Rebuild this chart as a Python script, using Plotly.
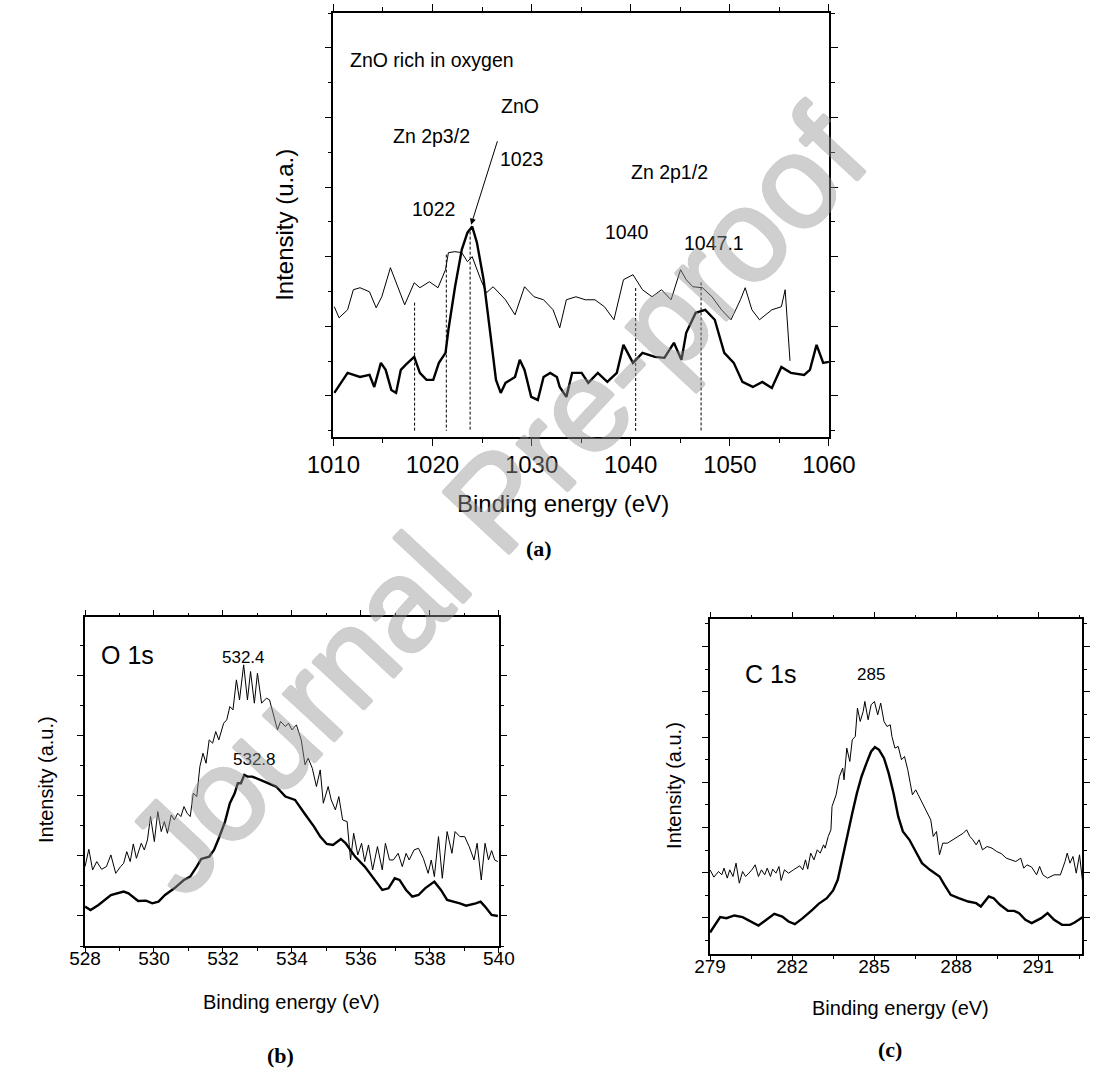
import plotly.graph_objects as go

W, H = 1109, 1068

# ---------------- (a) Zn 2p region ----------------
zn_thick_x = [1010.10, 1011.44, 1012.69, 1013.65, 1014.13, 1014.80, 1015.28, 1015.85, 1016.33, 1016.81,
              1017.29, 1018.16, 1018.73, 1019.40, 1020.08, 1020.65, 1021.32, 1021.61, 1022.28, 1022.96,
              1023.53, 1024.01, 1024.49, 1025.16, 1025.83, 1026.41, 1026.89, 1027.37, 1028.33, 1028.81,
              1029.29, 1029.96, 1030.63, 1031.21, 1031.88, 1032.55, 1032.84, 1033.51, 1034.09, 1035.05,
              1035.72, 1036.68, 1037.64, 1038.60, 1039.27, 1040.23, 1041.19, 1042.44, 1043.40, 1044.36,
              1045.12, 1045.60, 1046.56, 1047.52, 1048.48, 1049.44, 1050.40, 1051.27, 1052.32, 1053.28,
              1054.24, 1055.20, 1056.16, 1057.50, 1058.08, 1058.75, 1059.42, 1060.00]
zn_thick_y = [0.043, 0.331, 0.273, 0.302, 0.129, 0.475, 0.374, 0.086, 0.043, 0.374,
              0.446, 0.561, 0.331, 0.230, 0.230, 0.475, 0.619, 0.950, 1.568, 2.101,
              2.345, 2.432, 2.201, 1.669, 0.906, 0.230, 0.043, 0.187, 0.273, 0.518,
              0.374, -0.014, -0.058, 0.273, 0.331, 0.273, 0.129, -0.014, 0.331, 0.331,
              0.187, 0.331, 0.201, 0.331, 0.734, 0.475, 0.619, 0.561, 0.547, 0.763,
              0.518, 0.906, 1.194, 1.237, 1.094, 0.619, 0.475, 0.201, 0.129, 0.201,
              0.115, 0.417, 0.331, 0.302, 0.374, 0.734, 0.475, 0.489]

zn_thin_x = [1010.10, 1010.58, 1011.44, 1012.02, 1012.69, 1013.65, 1014.32, 1014.89, 1015.76, 1016.53,
             1017.20, 1018.16, 1018.73, 1019.69, 1020.56, 1021.32, 1021.61, 1022.28, 1022.96, 1023.53,
             1024.01, 1024.88, 1025.45, 1026.12, 1027.37, 1028.33, 1029.29, 1030.25, 1031.21, 1032.17,
             1032.84, 1033.51, 1034.47, 1035.43, 1036.39, 1037.35, 1038.31, 1039.27, 1040.23, 1041.19,
             1042.15, 1043.11, 1044.07, 1045.03, 1045.60, 1046.28, 1047.24, 1048.20, 1049.16, 1050.12,
             1051.07, 1051.55, 1052.23, 1052.99, 1054.24, 1055.20, 1055.58, 1056.07]
zn_thin_y = [1.281, 1.122, 1.237, 1.525, 1.554, 1.496, 1.266, 1.424, 1.842, 1.568,
             1.309, 1.626, 1.554, 1.640, 1.554, 1.813, 2.058, 2.072, 2.058, 1.928,
             2.000, 1.669, 1.482, 1.568, 1.381, 1.165, 1.568, 1.424, 1.381, 1.237,
             0.978, 1.381, 1.424, 1.381, 1.381, 1.281, 1.094, 1.669, 1.741, 1.525,
             1.424, 1.525, 1.381, 1.813, 1.669, 1.568, 1.554, 1.424, 1.237, 1.094,
             1.381, 1.554, 1.237, 1.094, 1.237, 1.281, 1.525, 0.504]

# reference energies marked with dashed drop lines
zn_marks_x = [1018.2, 1021.4, 1023.8, 1040.5, 1047.1]
zn_marks_top = [1.34, 2.03, 2.36, 1.55, 1.63]
zn_marks_bottom = -0.5

# ---------------- (b) O 1s region ----------------
o_thick_x = [528.00, 528.16, 528.39, 528.75, 529.12, 529.26, 529.54, 529.77, 529.95, 530.13,
             530.32, 530.59, 530.87, 531.05, 531.24, 531.37, 531.60, 531.74, 531.88, 532.06,
             532.20, 532.34, 532.43, 532.52, 532.62, 532.71, 532.85, 533.08, 533.35, 533.54,
             533.81, 534.09, 534.36, 534.64, 534.82, 535.01, 535.19, 535.42, 535.56, 535.83,
             536.11, 536.39, 536.62, 536.80, 536.98, 537.12, 537.31, 537.49, 537.67, 537.86,
             538.13, 538.32, 538.50, 538.87, 539.05, 539.33, 539.47, 539.60, 539.79, 539.97]
o_thick_y = [0.156, 0.100, 0.183, 0.350, 0.406, 0.378, 0.250, 0.256, 0.211, 0.239,
             0.350, 0.461, 0.600, 0.656, 0.822, 0.950, 0.989, 1.100, 1.294, 1.572,
             1.878, 2.044, 2.211, 2.211, 2.350, 2.322, 2.322, 2.267, 2.211, 2.156,
             1.989, 1.933, 1.711, 1.489, 1.322, 1.200, 1.183, 1.283, 1.211, 0.989,
             0.822, 0.600, 0.433, 0.461, 0.628, 0.600, 0.433, 0.322, 0.350, 0.461,
             0.572, 0.433, 0.267, 0.211, 0.172, 0.211, 0.239, 0.156, 0.017, 0.000]

o_thin_x = [528.00, 528.11, 528.22, 528.34, 528.48, 528.62, 528.75, 528.89, 529.03, 529.12,
            529.21, 529.31, 529.40, 529.49, 529.63, 529.72, 529.81, 529.90, 530.01, 530.11,
            530.21, 530.30, 530.39, 530.50, 530.59, 530.69, 530.78, 530.87, 530.96, 531.05,
            531.14, 531.24, 531.33, 531.42, 531.51, 531.60, 531.70, 531.79, 531.88, 532.02,
            532.11, 532.20, 532.29, 532.39, 532.48, 532.60, 532.71, 532.80, 532.91, 533.00,
            533.12, 533.26, 533.35, 533.46, 533.58, 533.67, 533.81, 533.90, 534.00, 534.13,
            534.27, 534.38, 534.47, 534.59, 534.71, 534.82, 534.91, 535.05, 535.14, 535.26,
            535.36, 535.47, 535.60, 535.70, 535.79, 535.91, 536.02, 536.11, 536.22, 536.34,
            536.48, 536.62, 536.71, 536.83, 536.94, 537.08, 537.20, 537.31, 537.40, 537.54,
            537.67, 537.81, 537.95, 538.04, 538.13, 538.25, 538.36, 538.50, 538.64, 538.73,
            538.87, 539.01, 539.14, 539.28, 539.37, 539.49, 539.60, 539.70, 539.79, 539.88,
            539.97]
o_thin_y = [0.822, 1.111, 0.767, 0.906, 0.778, 0.822, 1.017, 0.711, 0.822, 0.878,
            1.072, 0.906, 1.200, 0.961, 1.211, 1.100, 1.267, 1.656, 1.239, 1.739,
            1.406, 1.572, 1.378, 1.683, 1.600, 1.711, 1.656, 1.822, 1.711, 1.656,
            2.044, 1.989, 2.489, 2.711, 2.544, 2.933, 2.878, 3.072, 2.933, 3.211,
            3.267, 3.489, 3.433, 3.933, 3.600, 4.183, 3.600, 4.072, 3.544, 4.044,
            3.544, 3.628, 3.600, 3.378, 3.100, 3.239, 3.156, 3.211, 3.100, 3.183,
            2.933, 2.517, 2.628, 2.461, 2.156, 2.433, 1.878, 2.156, 1.933, 1.767,
            1.989, 1.600, 1.572, 0.933, 1.378, 1.017, 1.211, 0.906, 1.183, 0.767,
            1.156, 0.767, 1.211, 0.933, 0.933, 1.044, 0.822, 1.044, 0.933, 1.100,
            1.128, 0.961, 0.711, 0.933, 0.656, 1.322, 0.628, 1.406, 1.044, 1.406,
            1.322, 1.322, 1.156, 0.933, 1.211, 0.600, 1.211, 0.933, 1.089, 0.933,
            0.906]

# ---------------- (c) C 1s region ----------------
c_thick_x = [279.00, 279.14, 279.37, 279.60, 279.89, 280.19, 280.48, 280.77, 281.06, 281.35,
             281.64, 281.87, 282.10, 282.39, 282.74, 282.97, 283.27, 283.50, 283.67, 283.85,
             284.02, 284.20, 284.37, 284.54, 284.72, 284.89, 285.03, 285.18, 285.36, 285.53,
             285.71, 285.88, 286.05, 286.29, 286.52, 286.75, 287.04, 287.39, 287.57, 287.80,
             288.09, 288.44, 288.73, 288.90, 289.19, 289.37, 289.60, 289.89, 290.12, 290.30,
             290.53, 290.76, 291.11, 291.34, 291.58, 291.87, 292.16, 292.33, 292.62]
c_thick_y = [-0.324, -0.192, 0.015, -0.007, 0.052, 0.015, -0.081, -0.170, -0.044, 0.088,
             0.029, -0.081, -0.140, -0.007, 0.177, 0.310, 0.435, 0.605, 0.841, 1.357,
             1.873, 2.316, 2.758, 3.127, 3.422, 3.680, 3.776, 3.717, 3.532, 3.201,
             2.758, 2.242, 1.910, 1.726, 1.468, 1.209, 1.062, 0.914, 0.730, 0.509,
             0.435, 0.361, 0.324, 0.251, 0.472, 0.435, 0.288, 0.155, 0.155, 0.103,
             -0.044, -0.118, -0.007, 0.103, -0.044, -0.155, -0.155, -0.103, 0.015]

c_thin_x = [279.00, 279.14, 279.31, 279.43, 279.51, 279.63, 279.72, 279.84, 279.95, 280.07,
            280.19, 280.30, 280.42, 280.53, 280.65, 280.77, 280.88, 281.00, 281.09, 281.21,
            281.29, 281.41, 281.52, 281.60, 281.72, 281.87, 282.05, 282.28, 282.39, 282.49,
            282.57, 282.68, 282.80, 282.92, 283.03, 283.15, 283.21, 283.32, 283.42, 283.46,
            283.61, 283.73, 283.85, 283.90, 284.00, 284.11, 284.20, 284.31, 284.39, 284.49,
            284.60, 284.66, 284.78, 284.89, 285.01, 285.13, 285.24, 285.36, 285.47, 285.59,
            285.65, 285.76, 285.88, 286.00, 286.11, 286.23, 286.32, 286.40, 286.52, 286.64,
            286.75, 286.93, 287.07, 287.16, 287.28, 287.39, 287.51, 287.68, 287.91, 288.09,
            288.26, 288.38, 288.50, 288.61, 288.73, 288.84, 288.96, 289.13, 289.31, 289.48,
            289.66, 289.83, 290.01, 290.18, 290.36, 290.47, 290.59, 290.76, 290.94, 291.05,
            291.17, 291.34, 291.58, 291.81, 291.98, 292.06, 292.16, 292.27, 292.39, 292.51,
            292.62]
c_thin_y = [1.062, 0.900, 1.025, 0.951, 1.099, 0.878, 1.062, 0.914, 1.209, 0.767,
            1.025, 0.914, 0.988, 1.062, 1.173, 0.914, 1.062, 0.951, 1.099, 0.914,
            1.077, 0.988, 1.136, 0.826, 1.062, 0.988, 1.062, 1.150, 1.062, 1.283,
            1.077, 1.431, 1.283, 1.504, 1.431, 1.615, 1.541, 1.799, 1.947, 2.463,
            2.721, 3.127, 3.311, 3.053, 3.754, 3.459, 3.938, 4.012, 4.639, 4.344,
            4.565, 4.786, 4.381, 4.712, 4.786, 4.491, 4.749, 4.344, 4.233, 4.270,
            4.012, 3.754, 3.791, 3.496, 3.569, 3.274, 2.979, 2.721, 2.832, 2.684,
            2.537, 2.316, 2.168, 1.799, 1.910, 1.394, 1.652, 1.652, 1.740, 1.799,
            1.873, 1.947, 1.799, 1.726, 1.615, 1.726, 1.504, 1.578, 1.541, 1.468,
            1.416, 1.320, 1.283, 1.246, 1.320, 1.099, 1.173, 1.121, 0.951, 1.136,
            0.951, 0.878, 0.951, 0.951, 1.246, 1.431, 1.209, 1.357, 0.988, 1.394,
            0.804]

SANS = "Liberation Sans, Arial, sans-serif"
SERIF = "Liberation Serif, Times New Roman, serif"
INK = "black"
MARK_GRAY = "rgb(150,150,150)"


def px(x):
    return x / W


def py(y):
    return 1 - y / H


fig = go.Figure()

def line(x, y, width, xa, ya, dash=None):
    fig.add_trace(go.Scatter(x=x, y=y, mode="lines", xaxis=xa, yaxis=ya,
                             line=dict(color=INK, width=width, dash=dash),
                             hoverinfo="skip", showlegend=False))

# (a)
line(zn_thin_x, zn_thin_y, 1.0, "x", "y")
line(zn_thick_x, zn_thick_y, 2.4, "x", "y")
for mx, mt in zip(zn_marks_x, zn_marks_top):
    line([mx, mx], [mt, zn_marks_bottom], 1.0, "x", "y", dash="3px,2px")
# (b)
line(o_thin_x, o_thin_y, 1.0, "x2", "y2")
line(o_thick_x, o_thick_y, 2.4, "x2", "y2")
# (c)
line(c_thin_x, c_thin_y, 1.0, "x3", "y3")
line(c_thick_x, c_thick_y, 2.4, "x3", "y3")


def xaxis(domain, rng, dtick, minor, size, ticklen, standoff):
    return dict(domain=domain, range=rng, dtick=dtick, tick0=rng[0], showgrid=False, zeroline=False,
                showline=True, linecolor=INK, linewidth=1.5, mirror="ticks",
                ticks="outside", ticklen=ticklen, tickwidth=1.3, tickcolor=INK,
                ticklabelstandoff=standoff,
                minor=dict(dtick=minor, ticks="outside", ticklen=ticklen * 0.55, tickwidth=1.2, tickcolor=INK),
                tickfont=dict(family=SANS, size=size, color=INK), fixedrange=True)


def yaxis(domain, rng, anchor, ticklen):
    return dict(domain=domain, range=rng, dtick=1, tick0=0, showgrid=False, zeroline=False,
                showline=True, linecolor=INK, linewidth=1.5, mirror="ticks",
                ticks="outside", ticklen=ticklen, tickwidth=1.3, tickcolor=INK,
                minor=dict(dtick=0.5, ticks="outside", ticklen=ticklen * 0.55, tickwidth=1.2, tickcolor=INK),
                showticklabels=False, anchor=anchor, fixedrange=True)


fig.update_layout(
    width=W, height=H, margin=dict(l=0, r=0, t=0, b=0),
    paper_bgcolor="white", plot_bgcolor="white", showlegend=False,
    xaxis=xaxis([px(322), px(843)], [1010, 1060], 10, 5, 24, 7, -2),
    yaxis=yaxis([py(437), py(13)], [-0.59, 5.5], "x", 7),
    xaxis2=dict(xaxis([px(61), px(496)], [528, 540], 2, 1, 19, 5, -11), anchor="y2"),
    yaxis2=yaxis([py(946), py(617)], [-0.5, 4.98], "x2", 6),
    xaxis3=dict(xaxis([px(718), 1.0], [279, 292.6], 3, 1.5, 19, 5, -11), anchor="y3"),
    yaxis3=yaxis([py(954), py(619)], [-0.8, 6.61], "x3", 6),
)

ann = []

def text(t, x, y, size, xref, yref, xanchor="center", family=SANS, angle=0):
    ann.append(dict(text=t, x=x, y=y, xref=xref, yref=yref, showarrow=False,
                    xanchor=xanchor, yanchor="middle", textangle=angle,
                    font=dict(family=family, size=size, color=INK)))

# (a) labels
LBL = 19.5
text("ZnO rich in oxygen", 1011.5, 4.83, LBL, "x", "y", xanchor="left")
text("ZnO", 1028.8, 4.16, LBL, "x", "y")
text("Zn 2p3/2", 1019.9, 3.74, LBL, "x", "y")
text("1023", 1029.0, 3.40, LBL, "x", "y")
text("1022", 1020.1, 2.68, LBL, "x", "y")
text("Zn 2p1/2", 1043.9, 3.21, LBL, "x", "y")
text("1040", 1039.6, 2.36, LBL, "x", "y")
text("1047.1", 1048.4, 2.20, LBL, "x", "y")
ann.append(dict(x=1023.9, y=2.46, ax=1026.6, ay=3.68, xref="x", yref="y", axref="x", ayref="y",
                text="", showarrow=True, arrowhead=2, arrowsize=1.2, arrowwidth=1, arrowcolor=INK))

# (b) labels
text("O 1s", 528.4, 4.35, 25, "x2", "y2", xanchor="left")
text("532.4", 532.6, 4.30, 17, "x2", "y2")
text("532.8", 532.9, 2.60, 17, "x2", "y2")

# (c) labels
text("C 1s", 280.2, 5.40, 25, "x3", "y3", xanchor="left")
text("285", 284.9, 5.38, 17, "x3", "y3")

# axis titles and panel letters
text("Binding energy (eV)", px(563), py(503), 24, "paper", "paper")
text("Intensity (u.a.)", px(270), py(225), 24, "paper", "paper", angle=-90)
text("<b>(a)</b>", px(538), py(548), 22, "paper", "paper", family=SERIF)

text("Binding energy (eV)", px(278), py(1002), 20, "paper", "paper")
text("Intensity (a.u.)", px(20), py(780), 20, "paper", "paper", angle=-90)
text("<b>(b)</b>", px(266), py(1055), 22, "paper", "paper", family=SERIF)

text("Binding energy (eV)", px(918), py(1008), 20, "paper", "paper")
text("Intensity (a.u.)", px(680), py(785), 20, "paper", "paper", angle=-90)
text("<b>(c)</b>", px(907), py(1049), 22, "paper", "paper", family=SERIF)

# watermark: opaque glyphs slightly widened by an outline shadow, faded as one group
halo = ", ".join(f"{dx}px {dy}px 0 {MARK_GRAY}"
                 for dx, dy in [(1.5, 0), (-1.5, 0), (0, 1.5), (0, -1.5),
                                (1.1, 1.1), (-1.1, 1.1), (1.1, -1.1), (-1.1, -1.1)])
ann.append(dict(text="Journal Pre-proof", x=px(493), y=py(500), xref="paper", yref="paper",
                showarrow=False, textangle=-47, xanchor="center", yanchor="middle", opacity=0.45,
                font=dict(family=SANS, size=131, color=MARK_GRAY, shadow=halo)))

fig.update_layout(annotations=ann)
fig.write_html("out.html")
